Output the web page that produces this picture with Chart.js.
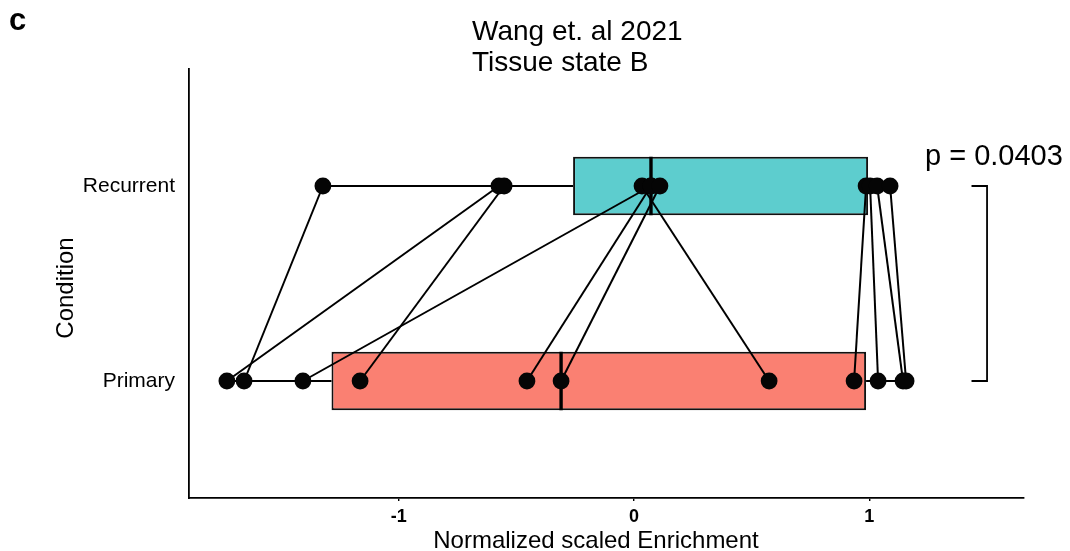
<!DOCTYPE html>
<html>
<head>
<meta charset="utf-8">
<script src="https://cdn.jsdelivr.net/npm/chart.js@4/dist/chart.umd.min.js"></script>
<style>
  html, body { margin: 0; padding: 0; background: #ffffff; }
  #wrap { width: 1070px; height: 551px; }
</style>
</head>
<body>
<div id="wrap"><canvas id="chart" width="1070" height="551"></canvas></div>
<script>
// Conditions on the vertical axis (0 = Primary, 1 = Recurrent)
const conditions = ['Primary', 'Recurrent'];
// Paired samples: index k in both arrays is the same patient
const primaryValues   = [-1.657, -1.730, -1.164, 0.574, -0.455, -1.407, -0.310, 0.935, 1.037, 1.143, 1.156];
const recurrentValues = [-1.322, -0.574, -0.552, 0.034, 0.072, 0.072, 0.110, 0.986, 1.003, 1.033, 1.088];
const xTicks = [-1, 0, 1];
const titleLines = ['Wang et. al 2021', 'Tissue state B'];
const pValueLabel = 'p = 0.0403';
const panelLabel = 'c';
const xTitle = 'Normalized scaled Enrichment';
const yTitle = 'Condition';
const boxColors = ['#FA8072', '#5DCDCE'];

const FONT = '"Liberation Sans", Arial, Helvetica, sans-serif';
const BOX_HALF = 0.15;

// Tukey box statistics (type-7 quantiles)
function quantile(sorted, p) {
  const h = (sorted.length - 1) * p;
  const lo = Math.floor(h);
  const hi = Math.min(lo + 1, sorted.length - 1);
  return sorted[lo] + (h - lo) * (sorted[hi] - sorted[lo]);
}
function boxStats(values) {
  const s = [...values].sort((a, b) => a - b);
  const q1 = quantile(s, 0.25), med = quantile(s, 0.5), q3 = quantile(s, 0.75);
  const iqr = q3 - q1;
  const lo = s.find(v => v >= q1 - 1.5 * iqr);
  const hi = [...s].reverse().find(v => v <= q3 + 1.5 * iqr);
  return { q1, med, q3, lo, hi };
}
const groups = [primaryValues, recurrentValues];
const stats = groups.map(boxStats);
const GAP = { x: null, y: null };

const datasets = [];

// whiskers
stats.forEach((s, i) => {
  datasets.push({
    type: 'line', order: 5, showLine: true, spanGaps: false,
    data: [{ x: s.lo, y: i }, { x: s.q1, y: i }, GAP, { x: s.q3, y: i }, { x: s.hi, y: i }],
    borderColor: '#000', borderWidth: 1.8, pointRadius: 0
  });
});

// boxes (floating horizontal bars from Q1 to Q3)
datasets.push({
  type: 'bar', order: 4, indexAxis: 'y',
  data: stats.map((s, i) => ({ x: [s.q1, s.q3], y: i })),
  backgroundColor: boxColors, borderColor: '#111', borderWidth: 2,
  borderSkipped: false, barPercentage: BOX_HALF * 2, categoryPercentage: 1
});

// medians
stats.forEach((s, i) => {
  datasets.push({
    type: 'line', order: 3, showLine: true,
    data: [{ x: s.med, y: i - BOX_HALF }, { x: s.med, y: i + BOX_HALF }],
    borderColor: '#000', borderWidth: 3.4, pointRadius: 0
  });
});

// pair connectors
recurrentValues.forEach((r, k) => {
  datasets.push({
    type: 'line', order: 2, showLine: true,
    data: [{ x: r, y: 1 }, { x: primaryValues[k], y: 0 }],
    borderColor: '#000', borderWidth: 2, pointRadius: 0
  });
});

// sample points
datasets.push({
  type: 'scatter', order: 1,
  data: groups.flatMap((vals, i) => vals.map(v => ({ x: v, y: i }))),
  backgroundColor: '#050505', borderWidth: 0, pointRadius: 8.4, pointHoverRadius: 8.4
});

// titles, axis titles, p-value bracket
const textPlugin = {
  id: 'chartText',
  afterDraw(chart) {
    const { ctx, scales: { x, y } } = chart;
    ctx.save();
    ctx.fillStyle = '#000';
    ctx.textAlign = 'left';
    ctx.textBaseline = 'alphabetic';

    ctx.font = 'bold 31px ' + FONT;
    ctx.fillText(panelLabel, 9, 30);

    ctx.font = '28px ' + FONT;
    titleLines.forEach((t, i) => ctx.fillText(t, 472, 40 + i * 31));

    ctx.font = '29px ' + FONT;
    ctx.fillText(pValueLabel, 925, 165);

    // axis titles
    ctx.font = '24px ' + FONT;
    ctx.textAlign = 'center';
    ctx.fillText(xTitle, 596, 548);
    ctx.save();
    ctx.translate(73, 288);
    ctx.rotate(-Math.PI / 2);
    ctx.fillText(yTitle, 0, 0);
    ctx.restore();

    // significance bracket between the two conditions
    const bx = x.getPixelForValue(1.50);
    const tx = x.getPixelForValue(1.434);
    const y1 = y.getPixelForValue(1);
    const y0 = y.getPixelForValue(0);
    ctx.strokeStyle = '#000';
    ctx.lineWidth = 1.8;
    ctx.beginPath();
    ctx.moveTo(tx, y1);
    ctx.lineTo(bx, y1);
    ctx.lineTo(bx, y0);
    ctx.lineTo(tx, y0);
    ctx.stroke();
    ctx.restore();
  }
};

Chart.defaults.font.family = FONT;
Chart.defaults.color = '#000';

new Chart(document.getElementById('chart'), {
  type: 'scatter',
  data: { datasets },
  plugins: [textPlugin],
  options: {
    responsive: false,
    animation: false,
    devicePixelRatio: 1,
    events: [],
    layout: { padding: { top: 69, right: 46, left: 0, bottom: 0 } },
    plugins: { legend: { display: false }, tooltip: { enabled: false }, title: { display: false } },
    scales: {
      x: {
        type: 'linear', min: -1.891, max: 1.657, offset: false,
        afterBuildTicks: s => { s.ticks = xTicks.map(v => ({ value: v })); },
        afterFit: s => { s.height = 53; },
        grid: { drawOnChartArea: false, drawTicks: true, tickLength: 3, color: '#000', lineWidth: 1.4, offset: false },
        border: { display: true, color: '#000', width: 1.8 },
        ticks: { padding: 5, font: { size: 18, weight: 'bold' }, color: '#000', maxRotation: 0 }
      },
      y: {
        type: 'linear', min: -0.6, max: 1.6, offset: false,
        afterBuildTicks: s => { s.ticks = conditions.map((c, i) => ({ value: i })); },
        afterFit: s => { s.width = 189; },
        grid: { drawOnChartArea: false, drawTicks: false, offset: false },
        border: { display: true, color: '#000', width: 1.8 },
        ticks: { padding: 14, font: { size: 21 }, color: '#000', callback: v => conditions[v] }
      }
    }
  }
});
</script>
</body>
</html>
